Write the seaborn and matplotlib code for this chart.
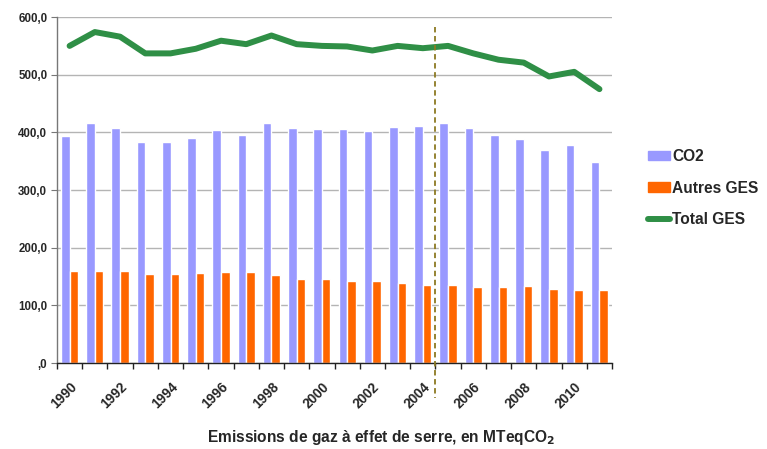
import matplotlib
matplotlib.use("Agg")
import matplotlib.pyplot as plt
import seaborn as sns
import pandas as pd
import numpy as np
from matplotlib.patches import Patch
from matplotlib.lines import Line2D

years = [str(y) for y in range(1990, 2012)]
co2 = [393, 417, 408, 384, 384, 390, 404, 396, 417, 408, 405, 405, 402, 410,
       411, 416, 407, 395, 389, 369, 378, 348]
autres = [160, 160, 160, 155, 155, 156, 157, 158, 153, 145, 145, 142, 142, 139,
          136, 135, 132, 132, 134, 128, 127, 127]
total = [550, 574, 566, 537, 537, 545, 559, 553, 568, 553, 550, 549, 542, 550,
         546, 550, 537, 526, 521, 497, 505, 475]
ytick_vals = [0, 100, 200, 300, 400, 500, 600]
ytick_labels = [",0", "100,0", "200,0", "300,0", "400,0", "500,0", "600,0"]
xtick_labels = [str(y) for y in range(1990, 2011, 2)]
series_names = ["CO2", "Autres GES", "Total GES"]
title = "Emissions de gaz à effet de serre, en MTeqCO$_\\mathbf{2}$"

sns.set_theme(style="white")
plt.rcParams['font.family'] = ['Liberation Sans', 'DejaVu Sans']

c_co2 = "#9999ff"
c_aut = "#ff6600"
c_tot = "#2f8f46"

df = pd.DataFrame({
    "year": years * 2,
    "value": co2 + autres,
    "serie": [series_names[0]] * len(years) + [series_names[1]] * len(years),
})

fig = plt.figure(figsize=(7.67, 4.49), dpi=100)
ax = fig.add_axes([0.0743, 0.1915, 0.7237, 0.7705])

sns.barplot(data=df, x="year", y="value", hue="serie", order=years,
            hue_order=series_names[:2], palette=[c_co2, c_aut],
            width=0.68, gap=0, saturation=1, legend=False, ax=ax)
sns.lineplot(x=np.arange(len(years)), y=total, color=c_tot, lw=4.3,
             solid_capstyle="round", ax=ax)

ax.set_xlim(-0.5, len(years) - 0.5)
ax.set_ylim(0, 600)
ax.set_yticks(ytick_vals)
ax.set_yticklabels(ytick_labels, fontsize=8.3, fontweight="bold")
ax.yaxis.grid(True, color="#b4b4b4", lw=1)
ax.set_axisbelow(True)
ax.tick_params(axis="y", length=4, width=0.8, color="#777777", pad=3, left=True)

ax.set_xticks(np.arange(0, len(years), 2))
ax.set_xticklabels(xtick_labels, rotation=45, ha="right", rotation_mode="anchor",
                   fontsize=9.8, fontweight="bold")
ax.set_xticks(np.arange(-0.5, len(years), 1), minor=True)
ax.tick_params(axis="x", which="major", length=0, pad=12)
ax.tick_params(axis="x", which="minor", length=4, width=1, color="#222222", bottom=True)
ax.set_xlabel("")
ax.set_ylabel("")

for s in ["top", "right"]:
    ax.spines[s].set_visible(False)
ax.spines["left"].set_color("#777777")
ax.spines["left"].set_linewidth(1)
ax.spines["bottom"].set_color("#222222")
ax.spines["bottom"].set_linewidth(1)

ax.plot([14.5, 14.5], [582, -60], ls=(0, (3, 2)), color="#8c7a22", lw=1.3,
        clip_on=False, zorder=5)

handles = [Patch(color=c_co2), Patch(color=c_aut),
           Line2D([0], [0], color=c_tot, lw=4.3)]
fig.legend(handles, series_names, loc="upper left", bbox_to_anchor=(0.826, 0.70),
           frameon=False, prop={"weight": "bold", "size": 11.2},
           handlelength=1.45, handleheight=0.55, handletextpad=0.12,
           labelspacing=1.08)

fig.text(0.497, 0.0245, title, ha="center", va="center", fontsize=11.2,
         fontweight="bold")

fig.savefig("out.png", dpi=100, facecolor="white")
